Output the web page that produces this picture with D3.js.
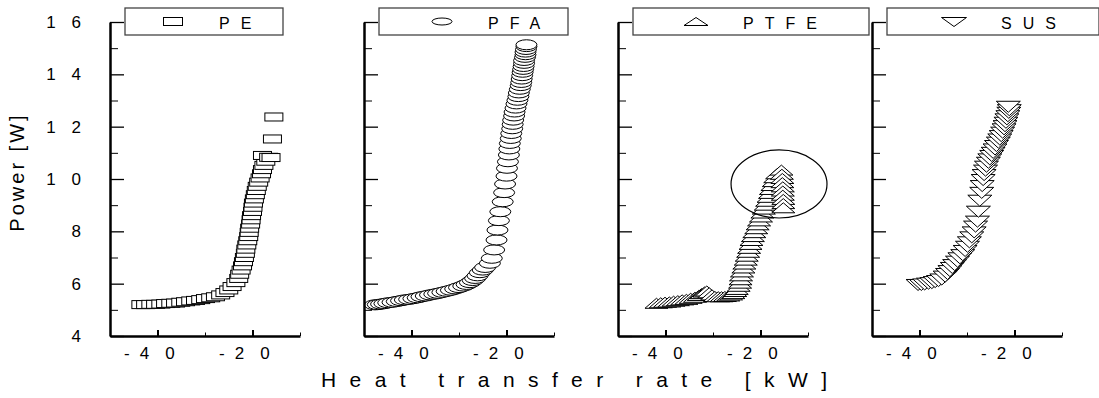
<!DOCTYPE html>
<html>
<head>
<meta charset="utf-8">
<script src="https://cdn.jsdelivr.net/npm/d3@7"></script>
<style>
  html, body { margin: 0; padding: 0; background: #fff; }
  svg { display: block; font-family: Arial, "Liberation Sans", sans-serif; }
</style>
</head>
<body>
<div id="chart"></div>
<script>
// axis ticks
const yMajor = [4, 6, 8, 10, 12, 14, 16];
const yMinor = [5, 7, 9, 11, 13, 15];
const xMajor = [-40, -20];
const xMinor = [-30, -10];

// PE series
const peX = [-43.5, -42.5, -41.4, -40.4, -39.3, -38.3, -37.2, -36.2, -35.1, -34.1, -33.0, -32.0, -30.9, -29.9, -28.8, -27.8, -26.7, -25.8, -25.0, -24.3, -23.5,
  -22.9, -22.7, -22.4, -22.1, -21.9, -21.7, -21.5, -21.4, -21.2, -21.0, -20.8, -20.7, -20.6, -20.4, -20.3, -20.2, -20.0, -19.9, -19.8, -19.6, -19.4, -19.2, -19.0, -18.7, -18.4, -18.1, -17.9, -17.6, -17.2, -17.9, -16.6,
  -16.1, -15.8, -15.5];
const peY = [5.20, 5.20, 5.21, 5.21, 5.22, 5.24, 5.25, 5.26, 5.29, 5.31, 5.34, 5.36, 5.39, 5.43, 5.46, 5.50, 5.57, 5.66, 5.76, 5.89, 6.04,
  6.20, 6.36, 6.52, 6.68, 6.84, 7.00, 7.16, 7.32, 7.48, 7.64, 7.80, 7.96, 8.12, 8.28, 8.44, 8.60, 8.76, 8.92, 9.08, 9.24, 9.40, 9.56, 9.72, 9.88, 10.04, 10.20, 10.36, 10.52, 10.68, 10.90, 10.83,
  10.82, 11.53, 12.37];

// PFA series
const pfaX = [-47.7, -47.1, -46.4, -45.7, -44.9, -44.0, -43.1, -42.2, -41.4, -40.5, -39.6, -38.7, -37.9, -37.0, -36.1, -35.2, -34.4, -33.5, -32.6, -31.7, -30.8, -30.0, -29.1, -28.4, -27.7, -27.1, -26.6, -26.1, -25.6, -25.0, -24.5,
  -23.5, -23.1, -22.6, -22.1, -21.9, -21.6, -21.3, -20.8, -20.5, -20.3, -20.0, -19.9, -19.7, -19.5, -19.4, -19.3, -19.1, -19.0, -18.8, -18.7, -18.6, -18.4, -18.3, -18.1, -17.9, -17.7, -17.5, -17.4, -17.2, -17.0, -16.9, -16.8, -16.7, -16.6, -16.5, -16.4, -16.3, -16.3, -16.1, -16.0, -16.0, -15.9, -15.8, -15.8];
const pfaY = [5.19, 5.20, 5.22, 5.24, 5.27, 5.29, 5.32, 5.35, 5.38, 5.40, 5.43, 5.46, 5.50, 5.53, 5.57, 5.60, 5.63, 5.67, 5.71, 5.75, 5.80, 5.85, 5.91, 5.97, 6.04, 6.12, 6.20, 6.30, 6.42, 6.52, 6.62,
  6.78, 6.97, 7.29, 7.67, 8.05, 8.41, 8.75, 9.13, 9.48, 9.81, 10.11, 10.41, 10.66, 10.92, 11.15, 11.36, 11.55, 11.74, 11.92, 12.09, 12.25, 12.41, 12.56, 12.71, 12.87, 13.01, 13.15, 13.29, 13.43, 13.57, 13.69, 13.82, 13.95, 14.08, 14.19, 14.30, 14.42, 14.53, 14.65, 14.75, 14.85, 14.95, 15.06, 15.13];

// PTFE series
const ptfeX = [-41.9, -41.0, -40.1, -39.2, -38.3, -37.4, -36.5, -35.6, -34.7, -33.8, -33.0, -32.4, -31.8, -31.3, -30.8, -30.2, -29.6, -28.9, -28.2, -27.5, -26.8, -26.2, -25.7, -25.3, -25.0, -24.6, -24.3,
  -24.2, -24.1, -23.9, -23.6, -23.4, -23.1, -22.9, -22.6, -22.4, -22.1, -21.9, -21.6, -21.3, -20.9, -20.6, -20.3, -19.9, -19.6, -19.3, -18.9, -18.6, -18.3, -18.0, -17.8, -17.5, -17.2, -16.9, -16.5, -15.6,
  -15.5, -15.4, -15.4, -15.3, -15.3, -15.3, -15.2, -15.2, -15.2];
const ptfeY = [5.25, 5.27, 5.29, 5.30, 5.33, 5.35, 5.38, 5.40, 5.44, 5.48, 5.55, 5.62, 5.68, 5.72, 5.65, 5.57, 5.51, 5.50, 5.50, 5.51, 5.53, 5.57, 5.62, 5.70, 5.78, 5.90, 6.02,
  6.15, 6.30, 6.45, 6.60, 6.75, 6.90, 7.05, 7.20, 7.35, 7.50, 7.65, 7.80, 7.95, 8.10, 8.25, 8.40, 8.55, 8.70, 8.85, 9.00, 9.15, 9.30, 9.45, 9.60, 9.75, 9.90, 10.05, 10.20, 10.34,
  10.18, 10.02, 9.86, 9.70, 9.54, 9.38, 9.22, 9.06, 8.90];

// SUS series
const susX = [-40.3, -39.6, -38.9, -38.1, -37.4, -36.7, -36.0, -35.3, -34.6, -34.1, -33.6, -33.1, -32.6, -32.0, -31.5, -30.9, -30.4, -29.9, -29.5, -29.0, -28.5, -28.2, -27.8, -27.6, -27.3, -26.9, -26.8, -26.6, -26.4, -26.1, -25.9, -25.5, -25.2, -24.8, -24.5, -24.1, -23.8, -23.4, -23.1, -22.8, -22.5, -22.2, -22.0, -21.8, -21.6, -21.4, -21.2, -21.1, -21.3];
const susY = [5.95, 5.95, 5.97, 6.00, 6.02, 6.06, 6.10, 6.16, 6.27, 6.37, 6.48, 6.60, 6.71, 6.84, 6.97, 7.09, 7.25, 7.41, 7.58, 7.77, 7.96, 8.18, 8.37, 8.75, 9.17, 9.47, 9.73, 9.96, 10.15, 10.32, 10.47, 10.62, 10.75, 10.88, 11.00, 11.13, 11.26, 11.39, 11.51, 11.64, 11.77, 11.90, 12.02, 12.15, 12.28, 12.40, 12.53, 12.63, 12.76];

// circled region on the PTFE panel (centre and half sizes in data units)
const ptfeMark = { cx: -16.1, cy: 9.81, rx: 10.1, ry: 1.3 };

const panels = [
  { name: "PE", xs: peX, ys: peY, shape: "rect", legendW: 158 },
  { name: "PFA", xs: pfaX, ys: pfaY, shape: "ellipse", legendW: 189 },
  { name: "PTFE", xs: ptfeX, ys: ptfeY, shape: "up", legendW: 236 },
  { name: "SUS", xs: susX, ys: susY, shape: "down", legendW: 212 }
];

const width = 1099, height = 398;
const plotTop = 22, plotBottom = 336, panelW = 190, firstLeft = 110, step = 254;
const font = "Arial, 'Liberation Sans', sans-serif";

const svg = d3.select("#chart").append("svg")
  .attr("width", width)
  .attr("height", height);

const y = d3.scaleLinear().domain([4, 16]).range([plotBottom, plotTop]);

// spread the glyphs of a label like the original print
function spaced(sel, gap) {
  sel.attr("dx", d => {
    const s = String(d);
    return s.split("").map((c, i) => i === 0 ? 0 : (s[i - 1] === "-" ? 10 : gap)).join(" ");
  });
}

function marker(g, shape, w, h) {
  if (shape === "rect") {
    return g.append("rect").attr("x", -w / 2).attr("y", -h / 2).attr("width", w).attr("height", h);
  }
  if (shape === "ellipse") {
    return g.append("ellipse").attr("rx", w / 2).attr("ry", h / 2);
  }
  const p = shape === "up"
    ? `M0,${-h / 2}L${w / 2},${h / 2}L${-w / 2},${h / 2}Z`
    : `M0,${h / 2}L${w / 2},${-h / 2}L${-w / 2},${-h / 2}Z`;
  return g.append("path").attr("d", p);
}

const markSize = {
  rect: [18, 8], ellipse: [21, 10], up: [23, 10], down: [24, 11]
};
const legendSize = {
  rect: [19, 8], ellipse: [20, 7], up: [24, 8], down: [25, 9]
};

panels.forEach((p, i) => {
  const left = firstLeft + i * step;
  const x = d3.scaleLinear().domain([-50, -10]).range([left, left + panelW]);
  const g = svg.append("g");

  // data markers
  const pts = p.xs.map((v, k) => [v, p.ys[k]]);
  const [mw, mh] = markSize[p.shape];
  pts.forEach(d => {
    const m = g.append("g").attr("transform", `translate(${x(d[0])},${y(d[1])})`);
    marker(m, p.shape, mw, mh)
      .attr("fill", "#fff")
      .attr("stroke", "#000")
      .attr("stroke-width", 1);
  });

  if (p.name === "PTFE") {
    g.append("ellipse")
      .attr("cx", x(ptfeMark.cx))
      .attr("cy", y(ptfeMark.cy))
      .attr("rx", x(ptfeMark.cx + ptfeMark.rx) - x(ptfeMark.cx))
      .attr("ry", y(ptfeMark.cy - ptfeMark.ry) - y(ptfeMark.cy))
      .attr("fill", "none")
      .attr("stroke", "#000")
      .attr("stroke-width", 1.2);
  }

  // y axis: major and minor ticks point inward
  const yAxis = g.append("g")
    .attr("transform", `translate(${left},0)`)
    .call(d3.axisLeft(y).tickValues(yMajor).tickSizeInner(-14).tickSizeOuter(0).tickPadding(29));
  g.append("g")
    .attr("transform", `translate(${left},0)`)
    .call(d3.axisLeft(y).tickValues(yMinor).tickSizeInner(-8).tickSizeOuter(0).tickFormat(""))
    .select(".domain").remove();
  yAxis.select(".domain").attr("stroke-width", 2.5);
  yAxis.selectAll(".tick line").attr("stroke-width", 1.3);
  if (i === 0) {
    yAxis.selectAll(".tick text")
      .attr("font-size", 17)
      .attr("font-family", font)
      .attr("fill", "#000")
      .attr("x", 81)
      .attr("transform", `translate(${-left},0)`)
      .call(spaced, 15.8);
  } else {
    yAxis.selectAll(".tick text").remove();
  }

  // x axis
  const xAxis = g.append("g")
    .attr("transform", `translate(0,${plotBottom})`)
    .call(d3.axisBottom(x).tickValues(xMajor).tickFormat(d => String(d))
      .tickSizeInner(-6).tickSizeOuter(0).tickPadding(11));
  g.append("g")
    .attr("transform", `translate(0,${plotBottom})`)
    .call(d3.axisBottom(x).tickValues(xMinor).tickSizeInner(-3.5).tickSizeOuter(0).tickFormat(""))
    .select(".domain").remove();
  xAxis.select(".domain").attr("stroke-width", 2.5);
  xAxis.selectAll(".tick line").attr("stroke-width", 2);
  xAxis.selectAll(".tick text")
    .attr("font-size", 17)
    .attr("font-family", font)
    .attr("fill", "#000")
    .attr("text-anchor", "start")
    .attr("x", -34)
    .call(spaced, 16);
  g.selectAll(".tick line").attr("stroke", "#000");
  g.selectAll(".domain").attr("stroke", "#000");

  // legend box
  const lg = g.append("g").attr("transform", `translate(${left + 15},8)`);
  lg.append("rect")
    .attr("width", p.legendW)
    .attr("height", 27)
    .attr("fill", "#fff")
    .attr("stroke", "#444")
    .attr("stroke-width", 1.3);
  const [lw, lh] = legendSize[p.shape];
  const symX = [48, 63, 63, 67][i];
  const sym = lg.append("g").attr("transform", `translate(${symX},${p.shape === "down" ? 14 : 13.5})`);
  marker(sym, p.shape, lw, lh).attr("fill", "#fff").attr("stroke", "#000").attr("stroke-width", 1);
  lg.append("text")
    .attr("x", [94, 109, 110, 114][i])
    .attr("y", 20.5)
    .attr("font-size", 16)
    .attr("font-family", font)
    .attr("letter-spacing", 11)
    .text(p.name);
});

// axis titles
svg.append("text")
  .attr("x", 321)
  .attr("y", 387)
  .attr("font-size", 21)
  .attr("font-family", font)
  .attr("letter-spacing", 13.4)
  .text("Heat transfer rate [kW]");

svg.append("text")
  .attr("transform", "translate(24,172) rotate(-90)")
  .attr("text-anchor", "middle")
  .attr("font-size", 20)
  .attr("letter-spacing", 3)
  .attr("font-family", font)
  .text("Power [W]");
</script>
</body>
</html>
